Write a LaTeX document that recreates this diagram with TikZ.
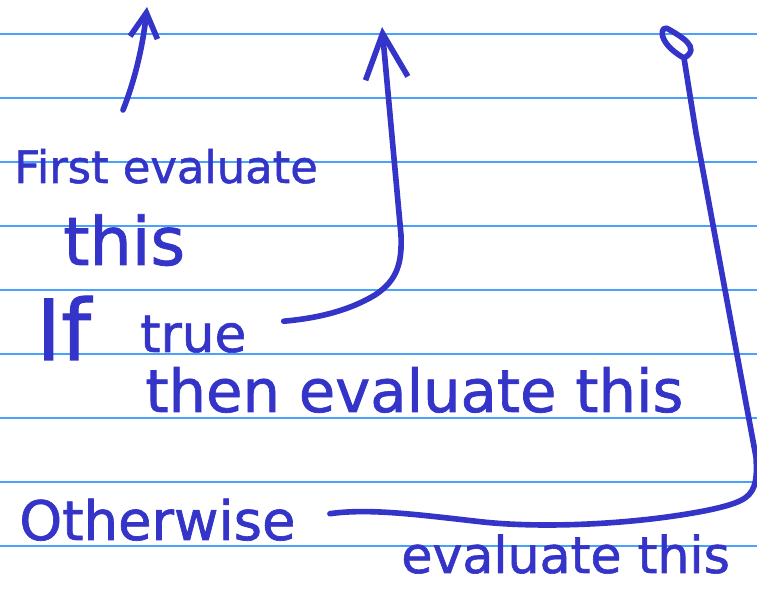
\documentclass[tikz,border=0pt]{standalone}
\usepackage{fontspec}
\setmainfont{DejaVu Sans}
\newfontfamily\handfont[FakeBold=1.2]{DejaVu Sans}
\usetikzlibrary{arrows.meta}
\definecolor{inkblue}{RGB}{52,52,200}
\definecolor{ruleblue}{RGB}{72,160,255}
\begin{document}
\begin{tikzpicture}[x=0.02cm,y=-0.02cm,
    rule/.style={draw=ruleblue,line width=0.9pt},
    ink/.style={draw=inkblue,line width=3.2pt,line cap=round,line join=round},
    word/.style={text=inkblue,inner sep=0pt,anchor=base west,font=\handfont\fontsize{#1}{#1}\selectfont}]
  \useasboundingbox (0,0) rectangle (757,590);
  % ruled paper
  \foreach \y in {34,98,...,546}
    \draw[rule] (0,\y) -- (757,\y);
  % the words
  \node[word=25.5] (first) at (14,183) {First evaluate};
  \node[word=38] (this1) at (63,265) {this};
  \node[word=48] (if) at (36,360) {If};
  \node[word=29.4] (true) at (140,352) {true};
  \node[word=33.7] (then) at (145,412) {then evaluate this};
  \node[word=31] (other) at (19,540) {Otherwise};
  \node[word=28.8] (else) at (401,573) {evaluate this};
  % arrows
  \coordinate (cond start) at (123,110);
  \coordinate (cond top) at (147,7);
  \coordinate (then top) at (382,27);
  \coordinate (else top) at (684,58);
  \draw[ink,-{Straight Barb[length=5mm,width=5.5mm]}] (cond start)
    .. controls (135,80) and (143,45) .. (cond top);
  \draw[ink,-{Straight Barb[length=9mm,width=8.5mm]}] ([shift={(37,-13)}]true.east)
    .. controls (320,318) and (350,310) .. (375,295)
    .. controls (398,280) and (402,262) .. (401,235) -- (then top);
  \draw[ink] ([shift={(34,-6)}]other.east)
    .. controls (370,508) and (420,515) .. (483,522)
    .. controls (530,527) and (600,526) .. (667,517)
    .. controls (710,511) and (735,505) .. (745,498)
    .. controls (757,490) and (757,475) .. (756,457)
    -- (725,290) -- (696,133) -- (else top)
    .. controls (655,42) and (660,22) .. (670,30)
    .. controls (680,36) and (702,48) .. (else top);
\end{tikzpicture}
\end{document}
